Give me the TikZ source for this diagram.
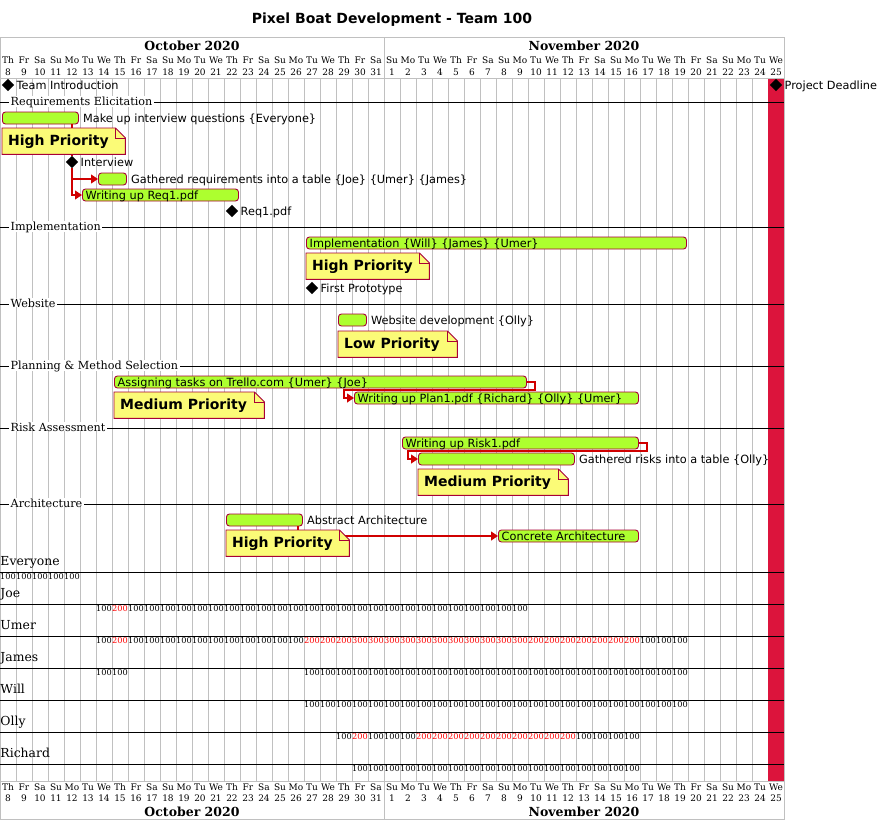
\documentclass[tikz,border=0pt]{standalone}
\usepackage{fontspec}
\setmainfont{DejaVu Sans}
\newfontfamily\serf{DejaVu Serif}
\usetikzlibrary{shapes.geometric,arrows.meta,calc}
\definecolor{barg}{HTML}{ADFF2F}
\definecolor{bord}{HTML}{A80036}
\definecolor{notey}{HTML}{FBFB77}
\definecolor{gridc}{HTML}{C0C0C0}
\definecolor{crims}{HTML}{DC143C}
\definecolor{linkc}{HTML}{D00000}
\newcommand\fsz[1]{\fontsize{#1pt}{#1pt}\selectfont}
\newcommand\notebox[5]{%
  \node[inner sep=0pt, minimum width=#4pt, minimum height=26pt, anchor=north west] (#1) at (#2,#3) {};
  \filldraw[fill=notey, draw=bord, line width=0.9pt] (#1.north west) -- ($(#1.north east)+(-10,0)$) -- ($(#1.north east)+(0,10)$) -- (#1.south east) -- (#1.south west) -- cycle;
  \draw[draw=bord, line width=0.9pt] ($(#1.north east)+(-10,0)$) -- ($(#1.north east)+(-10,10)$) -- ($(#1.north east)+(0,10)$);
  \node[font=\bfseries\fsz{14}, inner sep=0pt, anchor=base west] (#1t) at ($(#1.north west)+(6,17.5)$) {#5};
}
\begin{document}
\begin{tikzpicture}[x=1pt,y=-1pt,
  grid/.style={draw=gridc, line width=0.8pt},
  bar/.style={draw=bord, fill=barg, rounded corners=3pt, line width=0.9pt, minimum height=12pt, inner sep=0pt, anchor=west},
  tlbl/.style={font=\fsz{11.3}, inner sep=0pt, anchor=base west},
  ms/.style={diamond, fill=black, inner sep=0pt, minimum width=12.5pt, minimum height=12.5pt},
  link/.style={draw=linkc, line width=1.2pt, -{Triangle[length=7pt,width=9pt]}},
  plainlink/.style={draw=linkc, line width=1.2pt},
  sepl/.style={line width=1pt},
  seplbl/.style={font=\serf\fsz{11.2}, fill=white, inner xsep=1.5pt, inner ysep=0pt, anchor=base west},
  reslbl/.style={font=\serf\fsz{12.4}, inner sep=0pt, anchor=base west},
  num/.style={font=\serf\fsz{8.2}, inner sep=0pt, anchor=base},
  hdr/.style={font=\serf\fsz{9}, inner sep=0pt, anchor=base},
  month/.style={font=\serf\bfseries\fsz{12.5}, inner sep=0pt, anchor=base}
]
\useasboundingbox[fill=white] (0,0) rectangle (879,820);

% title
\node[font=\bfseries\fsz{14}, inner sep=0pt, anchor=base] (title) at (392,23) {Pixel Boat Development - Team 100};

% grid
\foreach \i in {1,...,48} \draw[grid] (16*\i,78) -- (16*\i,781);
\fill[crims] (768,78) rectangle (784,781);
\draw[grid] (0,37) rectangle (784,819);
\draw[grid] (0,78) -- (784,78);
\draw[grid] (0,781) -- (784,781);
\draw[grid] (384,37) -- (384,78);
\draw[grid] (384,781) -- (384,819);

% header
\node[month] (mo1) at (192,50) {October 2020};
\node[month] (mo2) at (584,50) {November 2020};
\node[month] (mo3) at (192,816.5) {October 2020};
\node[month] (mo4) at (584,816.5) {November 2020};
\foreach \i in {0,...,48} {
  \pgfmathtruncatemacro\d{\i<24 ? \i+8 : \i-23}
  \pgfmathtruncatemacro\w{mod(\i+3,7)}
  \node[hdr] (dn\i) at (16*\i+8,63.3) {\ifcase\w Mo\or Tu\or We\or Th\or Fr\or Sa\or Su\fi};
  \node[hdr] (dd\i) at (16*\i+8,75) {\d};
  \node[hdr] (bn\i) at (16*\i+8,790) {\ifcase\w Mo\or Tu\or We\or Th\or Fr\or Sa\or Su\fi};
  \node[hdr] (bd\i) at (16*\i+8,801.7) {\d};
}

% separators
\foreach \y/\t in {102/Requirements Elicitation, 227/Implementation, 304/Website, 366/Planning \& Method Selection, 428/Risk Assessment, 504/Architecture} {
  \draw[sepl] (0,\y) -- (784,\y);
  \node[seplbl] (sep\y) at (9,\y+3) {\t};
}

% bars
\node[bar, minimum width=76pt] (mkq) at (2,118) {};
\node[bar, minimum width=28pt] (gath) at (98,179) {};
\node[bar, minimum width=156pt] (req1) at (82,195) {};
\node[bar, minimum width=380pt] (impl) at (306,243) {};
\node[bar, minimum width=28pt] (web) at (338,320) {};
\node[bar, minimum width=412pt] (trel) at (114,382) {};
\node[bar, minimum width=284pt] (plan) at (354,398) {};
\node[bar, minimum width=236pt] (risk) at (402,443) {};
\node[bar, minimum width=156pt] (grisk) at (418,459) {};
\node[bar, minimum width=76pt] (abs) at (226,520) {};
\node[bar, minimum width=140pt] (conc) at (498,536) {};

% milestones
\node[ms] (ti) at (8,85) {};
\node[ms] (iv) at (72,162) {};
\node[ms] (rq) at (232,211) {};
\node[ms] (fp) at (312,288) {};
\node[ms] (pd) at (776,85) {};

% connectors
\draw[plainlink] (mkq.south -| iv) -- (iv.north);
\draw[link] (iv.south) |- (gath.west);
\draw[link] (iv.south) |- (req1.west);
\draw[link] (trel.east) -- ++(8,0) -- ++(0,8) -- ($(plan.west)+(-10,-8)$) -- ++(0,8) -- (plan.west);
\draw[link] (risk.east) -- ++(8,0) -- ++(0,8) -- ($(grisk.west)+(-10,-8)$) -- ++(0,8) -- (grisk.west);
\draw[link] ($(abs.south east)+(-5,0)$) |- (conc.west);

% notes
\notebox{n1}{2}{128}{123}{High Priority}
\notebox{n2}{306}{253}{123}{High Priority}
\notebox{n3}{338}{331}{119}{Low Priority}
\notebox{n4}{114}{392}{150}{Medium Priority}
\notebox{n5}{418}{469}{150}{Medium Priority}
\notebox{n6}{226}{530}{123}{High Priority}

% task labels
\node[tlbl] (mkqL) at ($(mkq.east)+(4,4)$) {Make up interview questions \{Everyone\}};
\node[tlbl] (gathL) at ($(gath.east)+(4,4)$) {Gathered requirements into a table \{Joe\} \{Umer\} \{James\}};
\node[tlbl] (req1L) at ($(req1.west)+(3.5,4)$) {Writing up Req1.pdf};
\node[tlbl] (implL) at ($(impl.west)+(3.5,4)$) {Implementation \{Will\} \{James\} \{Umer\}};
\node[tlbl] (webL) at ($(web.east)+(4,4)$) {Website development \{Olly\}};
\node[tlbl] (trelL) at ($(trel.west)+(3.5,4)$) {Assigning tasks on Trello.com \{Umer\} \{Joe\}};
\node[tlbl] (planL) at ($(plan.west)+(3.5,4)$) {Writing up Plan1.pdf \{Richard\} \{Olly\} \{Umer\}};
\node[tlbl] (riskL) at ($(risk.west)+(3.5,4)$) {Writing up Risk1.pdf};
\node[tlbl] (griskL) at ($(grisk.east)+(4,4)$) {Gathered risks into a table \{Olly\}};
\node[tlbl] (absL) at ($(abs.east)+(4,4)$) {Abstract Architecture};
\node[tlbl] (concL) at ($(conc.west)+(3.5,4)$) {Concrete Architecture};

% milestone labels
\node[tlbl] (tiL) at ($(ti)+(8.5,4)$) {Team Introduction};
\node[tlbl] (ivL) at ($(iv)+(8.5,4)$) {Interview};
\node[tlbl] (rqL) at ($(rq)+(8.5,4)$) {Req1.pdf};
\node[tlbl] (fpL) at ($(fp)+(8.5,4)$) {First Prototype};
\node[tlbl] (pdL) at ($(pd)+(8.5,4)$) {Project Deadline};

% resources
\foreach \y/\r in {572/Everyone, 604/Joe, 636/Umer, 668/James, 700/Will, 732/Olly, 764/Richard} {
  \draw[sepl] (0,\y) -- (784,\y);
  \node[reslbl] (r\y) at (0.3,\y-6.5) {\r};
}
\newcommand\loadrow[2]{%
  \foreach \a/\b/\v in {#2} {
    \foreach \i in {\a,...,\b} {
      \def\cc{black}\ifnum\v>100 \def\cc{red}\fi
      \node[num, text=\cc] (ld#1-\i) at (16*\i+8,#1+7.8) {\v};
    }
  }
}
\loadrow{572}{0/4/100}
\loadrow{604}{6/6/100, 7/7/200, 8/32/100}
\loadrow{636}{6/6/100, 7/7/200, 8/18/100, 19/21/200, 22/32/300, 33/39/200, 40/42/100}
\loadrow{668}{6/7/100, 19/42/100}
\loadrow{700}{19/42/100}
\loadrow{732}{21/21/100, 22/22/200, 23/25/100, 26/35/200, 36/39/100}
\loadrow{764}{22/39/100}
\end{tikzpicture}
\end{document}
